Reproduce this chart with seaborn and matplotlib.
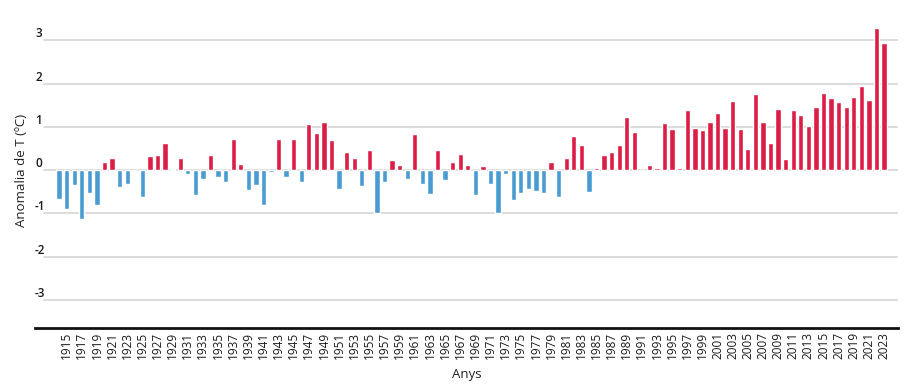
import numpy as np
import pandas as pd
import matplotlib
matplotlib.use("Agg")
import matplotlib.pyplot as plt
import seaborn as sns

# anomalia de temperatura anual (ºC), 1914-2023
years = list(range(1914, 2024))
anomaly = [
    -0.67, -0.89, -0.35, -1.12, -0.52, -0.80, 0.18, 0.29, -0.39, -0.32,   # 1914-1923
    -0.02, -0.62, 0.32, 0.35, 0.62, 0.02, 0.29, -0.10, -0.58, -0.20,      # 1924-1933
    0.35, -0.17, -0.28, 0.73, 0.15, -0.45, -0.34, -0.81, -0.05, 0.73,     # 1934-1943
    -0.17, 0.71, -0.28, 1.07, 0.85, 1.12, 0.70, -0.43, 0.42, 0.28,        # 1944-1953
    -0.36, 0.46, -0.98, -0.28, 0.24, 0.13, -0.21, 0.83, -0.32, -0.56,     # 1954-1963
    0.46, -0.23, 0.18, 0.38, 0.13, -0.58, 0.09, -0.32, -1.00, -0.10,      # 1964-1973
    -0.69, -0.54, -0.43, -0.48, -0.52, 0.18, -0.63, 0.29, 0.79, 0.57,     # 1974-1983
    -0.50, 0.06, 0.35, 0.42, 0.59, 1.22, 0.89, -0.03, 0.11, 0.05,         # 1984-1993
    1.08, 0.94, 0.05, 1.38, 0.97, 0.92, 1.12, 1.33, 0.98, 1.61,           # 1994-2003
    0.94, 0.50, 1.75, 1.12, 0.63, 1.42, 0.25, 1.38, 1.27, 1.02,           # 2004-2013
    1.47, 1.79, 1.66, 1.58, 1.47, 1.70, 1.95, 1.62, 3.28, 2.93,           # 2014-2023
]
y_ticks = [-3, -2, -1, 0, 1, 2, 3]

red = "#dc1e46"
blue = "#4a9bd2"

df = pd.DataFrame({"year": [str(y) for y in years], "anomaly": anomaly})
df["sign"] = np.where(df["anomaly"] >= 0, "pos", "neg")

sns.set_theme(style="white")
plt.rcParams["font.family"] = ["Open Sans", "DejaVu Sans"]

fig = plt.figure(figsize=(9.23, 3.9), dpi=100)
ax = fig.add_axes([0.038, 0.159, 0.935, 0.815])

sns.barplot(data=df, x="year", y="anomaly", hue="sign",
            palette={"pos": red, "neg": blue}, dodge=False,
            width=0.7, legend=False, ax=ax, saturation=1)

ax.set_xlim(-3.17, len(years) - 1 + 1.85)
ax.set_ylim(-3.65, 3.7)

# grid lines
for v in y_ticks:
    ax.axhline(v, xmin=0.01, xmax=1, color="#d6d6d6", lw=1.2, zorder=0)

ax.set_yticks(y_ticks)
ax.set_yticklabels([str(v) for v in y_ticks])
ax.tick_params(axis="y", length=0, pad=0, labelsize=8.5, labelcolor="#1a1a1a")
for lab in ax.get_yticklabels():
    lab.set_horizontalalignment("left")
    lab.set_verticalalignment("bottom")
    lab.set_fontweight("semibold")

idx = list(range(1, len(years), 2))
ax.set_xticks(idx)
ax.set_xticklabels([str(years[i]) for i in idx], rotation=90)
ax.tick_params(axis="x", length=0, pad=3, labelsize=8.5, labelcolor="#1a1a1a")

for s in ["top", "right", "left"]:
    ax.spines[s].set_visible(False)
ax.spines["bottom"].set_color("#111111")
ax.spines["bottom"].set_linewidth(2)

ax.set_xlabel("Anys", fontsize=9.5, color="#222222", labelpad=6)
ax.set_ylabel("Anomalia de T (ºC)", fontsize=9.5, color="#222222")
ax.yaxis.set_label_coords(-0.008, 0.497)

fig.savefig("out.png", dpi=100)
